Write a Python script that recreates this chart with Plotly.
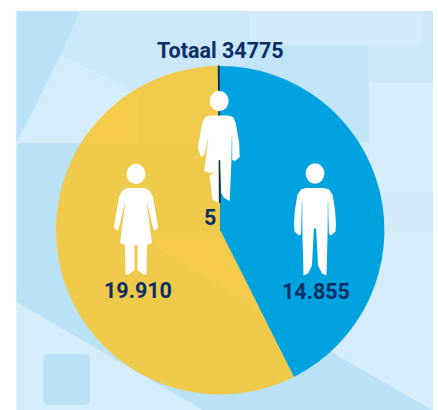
import plotly.graph_objects as go

# Data
categories = ["Man", "Vrouw", "X"]
values = [14855, 19910, 5]
value_labels = ["14.855", "19.910", "5"]
title_text = "Totaal 34775"

W, H = 438, 410
NAVY = "#0B2E66"
DARK = "#B9E2F6"
BASE = "#CBE8F9"
LIGHT = "#D5ECFA"
MID = "#C0E5F8"
BLUE = "#00A3DF"


def fx(x):
    return x / W


def fy(y):
    return 1 - y / H


def poly(points):
    return "M" + " L".join(f"{fx(x):.5f},{fy(y):.5f}" for x, y in points) + " Z"


def bg_poly(points, color, layer="below"):
    return dict(type="path", path=poly(points), xref="paper", yref="paper",
                fillcolor=color, line_width=0, layer=layer)


def round_rect(x0, y0, x1, y1, r, color):
    p = (f"M{fx(x0+r):.5f},{fy(y0):.5f} L{fx(x1-r):.5f},{fy(y0):.5f} "
         f"Q{fx(x1):.5f},{fy(y0):.5f} {fx(x1):.5f},{fy(y0+r):.5f} "
         f"L{fx(x1):.5f},{fy(y1-r):.5f} Q{fx(x1):.5f},{fy(y1):.5f} {fx(x1-r):.5f},{fy(y1):.5f} "
         f"L{fx(x0+r):.5f},{fy(y1):.5f} Q{fx(x0):.5f},{fy(y1):.5f} {fx(x0):.5f},{fy(y1-r):.5f} "
         f"L{fx(x0):.5f},{fy(y0+r):.5f} Q{fx(x0):.5f},{fy(y0):.5f} {fx(x0+r):.5f},{fy(y0):.5f} Z")
    return dict(type="path", path=p, xref="paper", yref="paper",
                fillcolor=color, line_width=0, layer="below")


def head(cx, cy):
    return dict(type="circle", xref="paper", yref="paper",
                x0=fx(cx - 9.4), x1=fx(cx + 9.4), y0=fy(cy + 10.2), y1=fy(cy - 10.2),
                fillcolor="white", line_width=0, layer="above")


def body(cx, cy, rel):
    return dict(type="path", path=poly([(cx + dx, cy + dy) for dx, dy in rel]),
                xref="paper", yref="paper", fillcolor="white", line_width=0, layer="above")


man_right = [(0, 14.5), (9, 14.5), (14, 16), (17.5, 21), (20, 36), (21, 50), (20.5, 58), (16, 62),
             (14, 60.5), (13.5, 45), (13.2, 28), (12.8, 28), (12.6, 60), (11.5, 102), (7, 100),
             (3, 92), (1.2, 56), (0, 54)]
man = man_right + [(-dx, dy) for dx, dy in reversed(man_right)]

woman_right = [(0, 14), (8, 14), (14, 16.5), (17, 23), (20, 40), (22, 53), (20.5, 56), (18, 56.5),
               (16, 50), (11.2, 29), (10.8, 29), (16, 69), (11, 71), (10.5, 100), (8, 101),
               (1.5, 96), (1.5, 71), (0, 71)]
woman = woman_right + [(-dx, dy) for dx, dy in reversed(woman_right)]

mixed = [(0, 14.5), (9, 14.5), (14, 16), (16.5, 22), (20, 42), (20.5, 56), (16, 60), (13, 59),
         (13, 35), (12.6, 35), (12.2, 60), (10.5, 100), (5, 97), (2, 92), (1, 59), (0, 59),
         (-1, 60), (-1, 102), (-7, 98), (-9.5, 74), (-4, 72), (-10, 72), (-15, 70), (-10.8, 36),
         (-15, 54), (-18, 56), (-21.5, 47), (-17, 22), (-14, 16), (-9, 14.5)]

shapes = [
    bg_poly([(16.5, 11), (433, 11), (433, 410), (16.5, 410)], BASE),
    bg_poly([(16.5, 11), (80, 11), (62, 52), (16.5, 143)], DARK),
    bg_poly([(62, 55), (138, 95), (138, 143), (16.5, 143)], LIGHT),
    bg_poly([(249, 11), (421.7, 11), (421.7, 41), (419, 44.5), (249, 44.5)], "#D4ECFA"),
    bg_poly([(240, 142), (433, 142), (433, 410), (240, 410)], LIGHT),
    bg_poly([(369, 83), (433, 83), (433, 192), (369, 192)], "#D8EDFC"),
    bg_poly([(369, 192), (433, 192), (433, 235), (369, 235)], "#D3EAF9"),
    round_rect(245, 46, 368, 142, 4, MID),
    bg_poly([(138, 90), (165, 76), (195, 68), (220, 66), (250, 66), (250, 143), (138, 143)], MID),
    bg_poly([(16.5, 302), (16.5, 410), (203, 410)], LIGHT),
    round_rect(16.5, 143, 240, 300, 5, DARK),
    bg_poly([(16.5, 290), (16.5, 302), (203, 410), (432, 410), (333, 353), (280, 322), (240, 290)], DARK),
    bg_poly([(150, 238), (222, 238), (262, 312), (150, 243)], LIGHT),
    round_rect(43, 354, 90, 405, 6, DARK),
    # below the middle figure only a hairline of the small slice remains, so the join is restored
    bg_poly([(218.4, 203), (220.2, 203), (220.2, 231), (218.4, 231)], "#EEC94A", layer="above"),
    bg_poly([(220.2, 203), (221.6, 203), (221.6, 232), (220.2, 231)], BLUE, layer="above"),
    head(315, 173.5), body(315, 173.5, man),
    head(136, 174), body(136, 174, woman),
    head(219.2, 101), body(219.2, 101, mixed),
]

fig = go.Figure(go.Pie(
    labels=categories,
    values=values,
    sort=False,
    direction="clockwise",
    rotation=-0.5,
    textinfo="none",
    hoverinfo="label+value",
    showlegend=False,
    domain=dict(x=[fx(56), fx(384.4)], y=[fy(394.4), fy(66)]),
    marker=dict(colors=[BLUE, "rgba(251,195,31,0.8)", NAVY],
                line=dict(color=NAVY, width=[0, 0, 1.7])),
))

FONT = "Roboto"
annotations = [
    dict(text=f"<b>{title_text}</b>", x=fx(220), y=fy(50.5), size=21.5),
    dict(text=f"<b>{value_labels[1]}</b>", x=fx(138), y=fy(290.5), size=21.5),
    dict(text=f"<b>{value_labels[0]}</b>", x=fx(315.5), y=fy(291.5), size=21.5),
    dict(text=f"<b>{value_labels[2]}</b>", x=fx(209.5), y=fy(217), size=21.5),
]
for a in annotations:
    size = a.pop("size")
    a.update(xref="paper", yref="paper", xanchor="center", yanchor="middle", showarrow=False,
             font=dict(family=FONT, size=size, color=NAVY))

fig.update_layout(
    width=W, height=H, margin=dict(l=0, r=0, t=0, b=0),
    paper_bgcolor="white", plot_bgcolor="white",
    shapes=shapes, annotations=annotations,
)
fig.write_html("out.html", config=dict(displayModeBar=False),
               post_script="document.body.style.margin='0';document.documentElement.style.overflow='hidden';")
